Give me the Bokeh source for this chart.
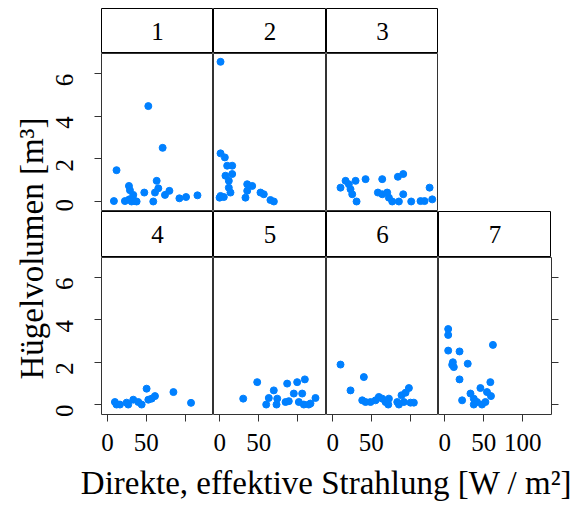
import math
from bokeh.plotting import figure
from bokeh.layouts import row, column
from bokeh.models import Range1d, LinearAxis, FixedTicker, Spacer
from bokeh.core.properties import value
from bokeh.embed import file_html
from bokeh.resources import INLINE

FONT = "Liberation Serif"

# ---------------- data ----------------
panel_labels = ["1", "2", "3", "4", "5", "6", "7"]

x1 = [52.6, 71.1, 11.6, 63.4, 27.6, 28.9, 65.5, 79.8, 47.4, 61.2, 74.1, 33.2,
      8.2, 22.4, 28.0, 35.3, 37.5, 31.0, 59.0, 92.7, 101.3, 116.0]
y1 = [4.48, 2.52, 1.47, 0.97, 0.73, 0.53, 0.62, 0.50, 0.42, 0.42, 0.31, 0.31,
      0.02, 0.02, 0.10, 0.02, 0.0, 0.0, 0.0, 0.15, 0.21, 0.29]

x2 = [1.2, 1.2, 6.7, 9.7, 16.1, 7.5, 16.1, 11.8, 11.8, 1.2, 5.4, 13.9, 35.3,
      41.7, 35.3, 33.1, 52.3, 56.5, 65.0, 69.4, 0.0]
y2 = [6.56, 2.26, 2.07, 1.68, 1.68, 1.21, 1.29, 0.97, 0.65, 0.26, 0.21, 0.42,
      0.81, 0.73, 0.50, 0.18, 0.42, 0.34, 0.07, 0.0, 0.18]

x3 = [10.3, 16.8, 21.0, 23.2, 25.4, 29.7, 31.0, 42.6, 64.1, 58.5, 64.1, 70.5,
      72.7, 77.0, 85.6, 84.3, 91.2, 91.2, 101.5, 113.5, 118.7, 128.6, 125.2]
y3 = [0.65, 0.97, 0.81, 0.58, 0.34, 0.97, 0.0, 1.05, 1.05, 0.42, 0.34, 0.42,
      0.18, 0.0, 0.0, 1.16, 1.29, 0.34, 0.0, 0.02, 0.02, 0.10, 0.65]

x4 = [9.5, 16.0, 24.6, 26.7, 33.2, 39.7, 44.0, 50.4, 52.6, 56.9, 61.2, 85.0,
      107.7, 11.6]
y4 = [0.12, 0.0, 0.09, 0.0, 0.23, 0.12, 0.0, 0.75, 0.23, 0.28, 0.40, 0.59,
      0.08, 0.0]

x5 = [30.2, 48.1, 69.3, 62.9, 59.6, 73.7, 72.8, 84.3, 88.5, 86.4, 99.2, 109.0,
      94.9, 105.6, 101.3, 107.7, 116.2, 122.6, 114.0]
y5 = [0.28, 1.06, 0.67, 0.31, 0.0, 0.28, 0.0, 0.12, 0.16, 0.99, 1.06, 1.19,
      0.52, 0.52, 0.12, 0.0, 0.05, 0.31, 0.0]

x6 = [10.3, 23.2, 40.4, 38.3, 42.6, 49.0, 55.5, 59.7, 64.1, 68.4, 71.9, 72.7,
      83.5, 89.0, 94.2, 98.5, 92.0, 100.6, 104.9, 85.6]
y6 = [1.89, 0.67, 1.30, 0.20, 0.12, 0.12, 0.20, 0.36, 0.28, 0.12, 0.0, 0.28,
      0.12, 0.44, 0.56, 0.78, 0.12, 0.09, 0.09, 0.0]

x7 = [4.6, 4.6, 4.6, 19.1, 10.6, 9.7, 11.8, 29.6, 19.1, 22.4, 33.1, 37.3, 37.3,
      41.5, 45.8, 47.8, 52.2, 54.2, 58.5, 59.3, 61.8]
y7 = [3.57, 3.29, 2.55, 2.51, 2.00, 1.88, 1.77, 1.93, 1.19, 0.20, 0.52, 0.28,
      0.0, 0.12, 0.78, 0.0, 0.12, 0.59, 1.06, 0.40, 2.82]

xs = [x1, x2, x3, x4, x5, x6, x7]
ys = [y1, y2, y3, y4, y5, y6, y7]

x_ticks = [0, 50, 100]
y_ticks = [0, 2, 4, 6]
x_title = "Direkte, effektive Strahlung [W / m\u00b2]"
y_title = "H\u00fcgelvolumen [m\u00b3]"

# ---------------- layout constants ----------------
FRAME_X0 = 101     # page x of the first panel column's left edge
LW = 54            # width of y-title strip
OVER = 28          # overlap of panel block onto the title strip
BLOCK_X = LW - OVER
AXW = FRAME_X0 - BLOCK_X   # left border for y axis
COLW = [112, 113, 112, 113]
TOPM = 8
STRIP_H_TOP = 45
STRIP_H_BOT = 46
PANEL_H_TOP = 158
PANEL_H_BOT = 157
BOT_B = 50
RIGHT_B = 10
XR = (-7.8, 136.7)
YR = (-0.47, 6.95)
TICK_COL = "#333333"
FRAME_COL = "#333333"
PT_COL = "#0080ff"
TICK_FS = "25px"
TITLE_FS = "33px"


def base_fig(w, h, left=0, right=0, bottom=0, top=0, xr=XR, yr=YR):
    p = figure(width=w, height=h, x_axis_type=None, y_axis_type=None,
               x_range=Range1d(*xr), y_range=Range1d(*yr),
               toolbar_location=None, output_backend="svg")
    p.min_border = 0
    p.min_border_left = left
    p.min_border_right = right
    p.min_border_bottom = bottom
    p.min_border_top = top
    p.background_fill_color = "white"
    p.border_fill_color = None
    p.outline_line_color = FRAME_COL
    p.outline_line_width = 1
    p.grid.visible = False
    return p


def style_axis(ax):
    ax.axis_line_color = None
    ax.major_tick_line_color = TICK_COL
    ax.major_tick_in = 0
    ax.major_tick_out = 7
    ax.minor_tick_line_color = None
    ax.major_label_text_font = FONT
    ax.major_label_text_font_size = TICK_FS
    ax.major_label_text_color = "black"


def left_y_axis():
    ya = LinearAxis(ticker=FixedTicker(ticks=y_ticks))
    style_axis(ya)
    ya.major_label_orientation = math.pi / 2
    ya.major_label_standoff = 30
    return ya


def strip_fig(label, w, h, left=0):
    s = base_fig(w, h, left=left, xr=(0, 1), yr=(0, 1))
    s.outline_line_color = "black"
    s.text(x=[0.5], y=[0.5], text=[label], text_align="center",
           text_baseline="middle", text_font=value(FONT),
           text_font_size=TICK_FS, text_color="black")
    return s


def panel_fig(i, w, h, left=0, right=0, bottom=0):
    p = base_fig(w, h, left=left, right=right, bottom=bottom)
    p.scatter(xs[i], ys[i], size=7, marker="circle", fill_color=PT_COL,
              line_color=PT_COL)
    return p


# ---------- top row ----------
top_strips = []
top_panels = []
for c in range(3):
    left = AXW if c == 0 else 0
    w = COLW[c] + left
    top_strips.append(strip_fig(panel_labels[c], w, STRIP_H_TOP, left=left))
    p = panel_fig(c, w, PANEL_H_TOP, left=left)
    if c == 0:
        p.add_layout(left_y_axis(), "left")
    top_panels.append(p)

# ---------- bottom row ----------
bot_strips = []
bot_panels = []
for c in range(4):
    i = 3 + c
    left = AXW if c == 0 else 0
    right = RIGHT_B if c == 3 else 0
    w = COLW[c] + left + right
    bot_strips.append(strip_fig(panel_labels[i], COLW[c] + left,
                                STRIP_H_BOT, left=left))
    p = panel_fig(i, w, PANEL_H_BOT + BOT_B, left=left, right=right,
                  bottom=BOT_B)
    xa = LinearAxis(ticker=FixedTicker(ticks=x_ticks))
    style_axis(xa)
    xa.major_label_standoff = 12
    if c < 3:
        xa.major_label_overrides = {100: ""}
    p.add_layout(xa, "below")
    if c == 0:
        p.add_layout(left_y_axis(), "left")
    if c == 3:
        ra = LinearAxis(ticker=FixedTicker(ticks=y_ticks))
        style_axis(ra)
        ra.major_label_text_font_size = "0px"
        ra.major_label_standoff = 0
        p.add_layout(ra, "right")
    bot_panels.append(p)

# ---------- titles ----------
TOTAL_H = 506
ytf = base_fig(LW, TOTAL_H, xr=(0, LW), yr=(0, TOTAL_H))
ytf.outline_line_color = None
ytf.background_fill_color = None
ytf.text(x=[31], y=[TOTAL_H - 248], text=[y_title], angle=math.pi / 2,
         text_align="center", text_baseline="middle", text_font=value(FONT),
         text_font_size=TITLE_FS, text_color="black")

XT_H = TOTAL_H - (TOPM + STRIP_H_TOP + PANEL_H_TOP + STRIP_H_BOT + PANEL_H_BOT + BOT_B)
XT_W = 578 - BLOCK_X
xtf = base_fig(XT_W, XT_H, xr=(0, XT_W), yr=(0, XT_H))
xtf.outline_line_color = None
xtf.background_fill_color = None
xtf.text(x=[326 - BLOCK_X], y=[XT_H - (482 - (TOTAL_H - XT_H))], text=[x_title],
         text_align="center", text_baseline="middle", text_font=value(FONT),
         text_font_size=TITLE_FS, text_color="black")

right_block = column(
    Spacer(width=10, height=TOPM),
    row(*top_strips),
    row(*top_panels),
    row(*bot_strips),
    row(*bot_panels),
    xtf,
    margin=(0, 0, 0, -OVER),
)
layout = row(ytf, right_block)

open("out.html", "w").write(file_html(layout, INLINE))
